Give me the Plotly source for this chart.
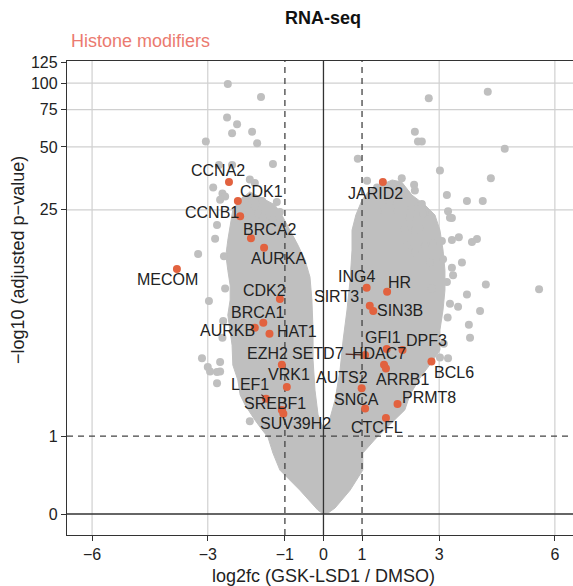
import numpy as np
import plotly.graph_objects as go

# ---------------- data (log2 fold change, -log10 adjusted p) ----------------
# scattered background genes outside the dense core
gray_fc = [-2.48, -1.62, -2.50, -2.24, -2.37, -1.85, -1.72, -3.05, -1.31, -2.71, -2.37, -2.86, -1.91,
           -2.62, -2.55, -2.68, -2.03, -1.78, -1.70, -1.78, -1.59, -1.21, -1.13, -1.57, -1.31,
           -3.25, -2.97, -2.60, -2.76, -2.94, -2.68, -1.91, -2.76, -2.81, -3.15, -3.00, -2.68, -2.76,
           -2.55, -2.62, -2.58,
           2.73, 4.26, 2.37, 2.45, 2.55, 4.70, 0.89, 3.02, 4.34, 2.03, 1.13, 2.35, 2.37, 3.20, 3.72,
           4.13, 2.29, 2.55, 2.63, 3.23, 3.33, 2.24, 2.58, 3.28, 2.11, 2.37, 2.50, 3.07, 2.84, 2.63,
           3.33, 3.51, 3.85, 3.98, 2.16, 2.37, 3.10, 3.59, 3.33, 3.36, 2.76, 4.21, 5.59, 3.72, 2.81,
           3.28, 3.49, 4.06, 3.77, 3.80, 3.23, 3.02, 1.39, 1.72, 2.16, 1.41, 1.91,
           3.20, 3.22, 3.12]
gray_p = [99, 86, 69, 64, 58, 59, 52, 53, 41.5, 41, 41, 32, 35,
          30, 29, 28, 28, 26, 24, 33.7, 27.6, 27.3, 24.4, 22.8, 22.3,
          15.2, 8.8, 6.9, 3.06, 3.6, 3.6, 1.7, 21.1, 18.1, 4.3, 3.83, 4.1, 3.58,
          10.2, 5.6, 14.8,
          85, 91, 59, 53, 53, 49, 44, 38.6, 35.5, 35.5, 34.5, 33, 31, 29.5, 27.6,
          27.6, 25.5, 26.7, 24.3, 24.6, 22.8, 23, 24, 22.9, 20, 19.9, 20.4, 17.6, 17.2, 16.6,
          17.8, 18.4, 17.4, 18, 16.8, 15.5, 14.3, 13.8, 13, 11.9, 13.8, 10.7, 10.1, 9.5, 10.2,
          8.5, 8.2, 7.8, 6.6, 5.6, 4.3, 4.35, 32.0, 27.3, 29.6, 24.7, 24.7,
          11.0, 7.2, 5.2]

# outline of the dense core of genes (left lobe -> right lobe)
core_fc = [0.0, -0.14, -0.61, -1.13, -1.31, -1.44, -1.59, -1.78, -2.03, -2.16, -2.22, -2.35, -2.37,
           -2.42, -2.48, -2.42, -2.42, -2.48, -2.53, -2.48, -2.42, -2.35, -2.16, -1.91, -1.59,
           -1.26, -1.08,
           -0.87, -0.66, -0.48, -0.35, -0.30, -0.27, -0.27, -0.22, -0.14, -0.04,
           0.12, 0.30, 0.43, 0.51, 0.61, 0.69, 0.74, 0.74, 0.84, 1.00, 1.20, 1.46,
           1.78, 2.03, 2.29, 2.63, 2.89, 3.02, 3.10, 3.15, 3.15, 3.10, 3.02, 3.02, 2.81, 2.50,
           2.24, 2.11, 1.85, 1.65, 1.39, 1.02, 1.02, 0.69, 0.30, 0.12]
core_p = [0.0, 0.04, 0.29, 0.60, 0.92, 1.28, 1.46, 1.74, 2.21, 2.58, 3.2, 3.93, 5.1,
          6.18, 7.43, 8.9, 10.6, 12.6, 15.0, 17.8, 21.1, 25.0, 27.9, 30.5, 28.5,
          26.4, 23.6,
          19.9, 16.8, 14.2, 11.66, 8.9, 6.18, 4.2, 2.77, 1.89, 1.59,
          1.59, 2.39, 3.67, 5.45, 7.9, 11.25, 15.9, 19.9, 23.6, 27.9, 31.2, 32.9,
          34.8, 34.0, 29.5, 26.4, 23.6, 19.9, 15.9, 12.6, 10.0, 7.9, 6.18, 4.79, 4.09, 3.29,
          2.58, 2.05, 1.74, 1.54, 1.28, 0.92, 0.60, 0.29, 0.066, 0.011]

# highlighted histone modifier genes
genes = ["CCNA2", "CDK1", "CCNB1", "BRCA2", "AURKA", "MECOM", "CDK2", "BRCA1", "AURKB", "HAT1",
         "EZH2", "VRK1", "LEF1", "SREBF1", "SUV39H2", "JARID2", "ING4", "HR", "SIRT3", "SIN3B",
         "GFI1", "DPF3", "SETD7", "HDAC7", "ARRB1", "BCL6", "AUTS2", "SNCA", "PRMT8", "CTCFL"]
gene_fc = [-2.45, -2.22, -2.16, -1.88, -1.54, -3.80, -1.13, -1.56, -1.78, -1.40,
           -1.08, -0.95, -1.49, -1.08, -1.04, 1.54, 1.12, 1.65, 1.20, 1.29,
           1.64, 2.05, 1.08, 1.57, 1.62, 2.80, 0.99, 1.08, 1.92, 1.62]
gene_p = [34.0, 27.6, 23.3, 18.2, 16.3, 12.8, 9.0, 6.75, 6.35, 5.9,
          3.95, 2.9, 2.44, 2.05, 1.93, 34.0, 10.3, 9.8, 8.3, 7.8,
          4.85, 4.8, 4.49, 3.95, 3.75, 4.12, 2.85, 2.1, 2.25, 1.8]

x_ticks = [-6, -3, -1, 0, 1, 3, 6]
y_tick_vals = [0, 1.30103, 25, 50, 75, 100, 125]
y_tick_text = ["0", "1", "25", "50", "75", "100", "125"]
x_grid = [-6, -3, 3, 6]
y_grid = [25, 50, 75, 100]
fc_cut = 1
p_cut = 1.30103

# ---------------- styling / layout (not data) ----------------
# label centre offsets in pixels relative to each dot (dx right, dy up)
label_offsets = {
    "CCNA2": (-11, 12), "CDK1": (24, 9), "CCNB1": (-28, 4), "BRCA2": (19, 9), "AURKA": (14, -11),
    "MECOM": (-9, -11), "CDK2": (-15, 9), "BRCA1": (-6, 10), "AURKB": (-27, -3), "HAT1": (28, 2),
    "EZH2": (-14, 11), "VRK1": (2, 12), "LEF1": (-16, 14), "SREBF1": (-7, 6), "SUV39H2": (12, -10),
    "JARID2": (-7, -11), "ING4": (-10, 11), "HR": (12, 9), "SIRT3": (-33, 9), "SIN3B": (27, 0),
    "GFI1": (-4, 12), "DPF3": (24, 9), "SETD7": (-47, 2), "HDAC7": (-5, 11), "ARRB1": (17, -11),
    "BCL6": (23, -11), "AUTS2": (-20, 11), "SNCA": (-9, 9), "PRMT8": (31, 6), "CTCFL": (-9, -10),
}
leaders = {"LEF1", "SETD7"}

def tr(v):
    return np.log10(1 + np.asarray(v, dtype=float))

W, H = 573, 586
L, R, T, B = 67, 0, 61, 51
PW, PH = W - L - R, H - T - B
xr = [-6.65, 6.47]
yr = [-0.0977, 2.1074]

GRAY = "#BFBFBF"
RED = "#E2623F"
DARK = "#333333"
FONT = "Liberation Sans, Arial, sans-serif"

fig = go.Figure()

fig.add_trace(go.Scatter(x=core_fc, y=tr(core_p), mode="lines", fill="toself",
                         fillcolor=GRAY, line=dict(color=GRAY, width=1), hoverinfo="skip",
                         showlegend=False))
fig.add_trace(go.Scatter(x=gray_fc, y=tr(gray_p), mode="markers",
                         marker=dict(color=GRAY, size=8, line=dict(width=0)), showlegend=False))

# reference lines
for xv in [-fc_cut, fc_cut]:
    fig.add_trace(go.Scatter(x=[xv, xv], y=yr, mode="lines",
                             line=dict(color="#444444", width=1.3, dash="6px,5px"),
                             hoverinfo="skip", showlegend=False))
fig.add_trace(go.Scatter(x=xr, y=[tr(p_cut)] * 2, mode="lines",
                         line=dict(color="#444444", width=1.3, dash="6px,5px"),
                         hoverinfo="skip", showlegend=False))
fig.add_trace(go.Scatter(x=[0, 0], y=yr, mode="lines", line=dict(color=DARK, width=1.3),
                         hoverinfo="skip", showlegend=False))
fig.add_trace(go.Scatter(x=xr, y=[0, 0], mode="lines", line=dict(color=DARK, width=1.3),
                         hoverinfo="skip", showlegend=False))

fig.add_trace(go.Scatter(x=gene_fc, y=tr(gene_p), mode="markers", text=genes,
                         marker=dict(color=RED, size=8, line=dict(width=0)), showlegend=False))

shapes = []
for gx in x_grid:
    shapes.append(dict(type="line", xref="x", yref="paper", x0=gx, x1=gx, y0=0, y1=1,
                       line=dict(color="#D0D0D0", width=1.2), layer="below"))
for gy in y_grid:
    shapes.append(dict(type="line", xref="paper", yref="y", x0=0, x1=1, y0=tr(gy), y1=tr(gy),
                       line=dict(color="#D0D0D0", width=1.2), layer="below"))

ann = []
for g, fx, py in zip(genes, gene_fc, gene_p):
    dx, dy = label_offsets[g]
    if g in leaders:
        ann.append(dict(x=fx, y=float(tr(py)), xref="x", yref="y", text=g, showarrow=True,
                        ax=dx, ay=-dy, arrowhead=0, arrowwidth=1.2, arrowcolor="#5a2a20",
                        standoff=3, font=dict(family=FONT, size=16, color="#222222")))
    else:
        ann.append(dict(x=fx, y=float(tr(py)), xref="x", yref="y", text=g, showarrow=False,
                        xanchor="center", yanchor="middle",
                        xshift=dx, yshift=dy, font=dict(family=FONT, size=16, color="#222222")))

def px(xp):
    return (xp - L) / PW

def py_(yp):
    return (H - B - yp) / PH

common = dict(xref="paper", yref="paper", showarrow=False, yanchor="middle")
ann.append(dict(x=px(323), y=py_(18), text="<b>RNA-seq</b>", xanchor="center",
                font=dict(family=FONT, size=18, color="#111111"), **common))
ann.append(dict(x=px(69), y=py_(41), text="Histone modifiers", xanchor="left",
                font=dict(family=FONT, size=18, color="#EB7A70"), **common))
ann.append(dict(x=px(323), y=py_(576), text="log2fc (GSK-LSD1 / DMSO)", xanchor="center",
                font=dict(family=FONT, size=18, color="#222222"), **common))
ann.append(dict(x=px(18), y=py_(260), text="\u2212log10 (adjusted p\u2212value)", textangle=-90,
                xanchor="center", font=dict(family=FONT, size=18, color="#222222"), **common))

fig.update_layout(
    width=W, height=H, margin=dict(l=L, r=R, t=T, b=B),
    paper_bgcolor="white", plot_bgcolor="white",
    shapes=shapes, annotations=ann, showlegend=False,
    xaxis=dict(range=xr, tickvals=x_ticks,
               ticktext=[("\u2212" + str(-v)) if v < 0 else str(v) for v in x_ticks],
               showgrid=False, zeroline=False, showline=True, linecolor=DARK, linewidth=1.3,
               mirror=True, ticks="outside", ticklen=5, tickcolor=DARK, tickwidth=1.2,
               tickfont=dict(family=FONT, size=16, color="#222222")),
    yaxis=dict(range=yr, tickvals=list(tr(y_tick_vals)), ticktext=y_tick_text,
               showgrid=False, zeroline=False, showline=True, linecolor=DARK, linewidth=1.3,
               ticks="outside", ticklen=5, tickcolor=DARK, tickwidth=1.2,
               tickfont=dict(family=FONT, size=16, color="#222222")),
)

fig.write_html("out.html", config={"displayModeBar": False},
               post_script="document.body.style.margin='0';document.body.style.overflow='hidden';")
